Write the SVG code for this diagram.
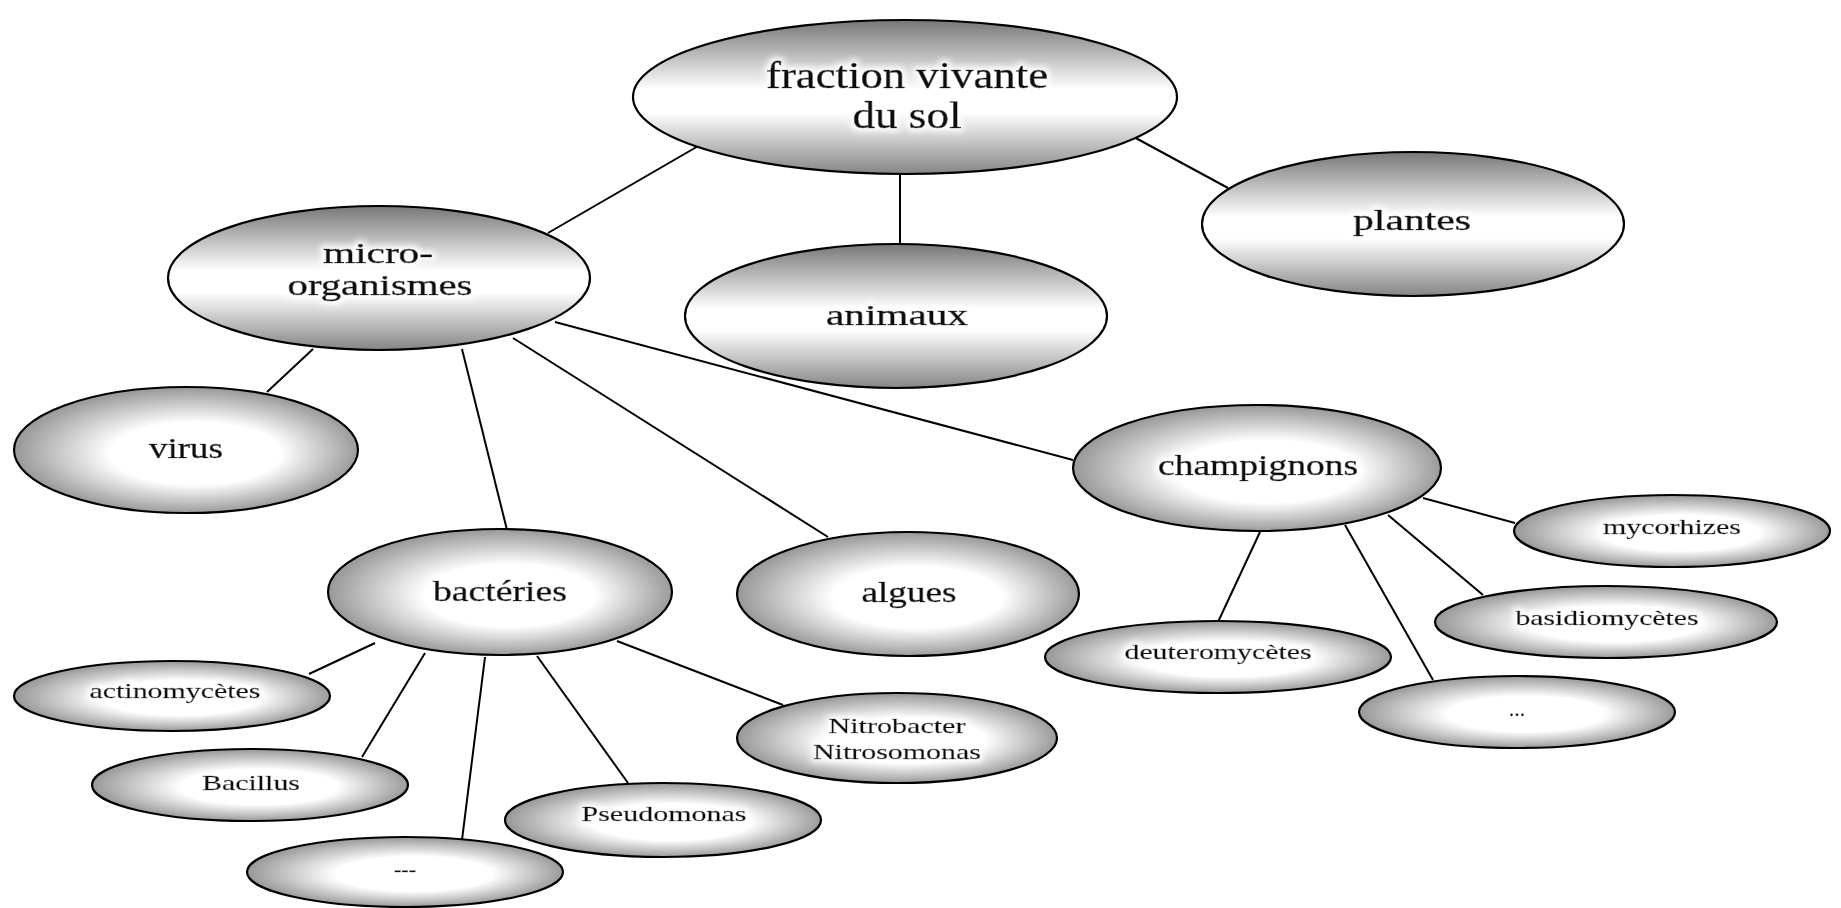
<svg xmlns="http://www.w3.org/2000/svg" width="1841" height="908" viewBox="0 0 1841 908">
<defs>
<linearGradient id="gv" x1="0" y1="0" x2="0" y2="1">
<stop offset="0" stop-color="#777777"/>
<stop offset="0.45" stop-color="#ffffff"/>
<stop offset="0.6" stop-color="#ffffff"/>
<stop offset="1" stop-color="#858585"/>
</linearGradient>
<radialGradient id="gr" cx="0.5" cy="0.5" r="0.55" fx="0.55" fy="0.55">
<stop offset="0" stop-color="#ffffff"/>
<stop offset="0.45" stop-color="#ffffff"/>
<stop offset="1" stop-color="#858585"/>
</radialGradient>
<filter id="halo" x="-20%" y="-50%" width="140%" height="200%">
<feMorphology in="SourceAlpha" operator="dilate" radius="3" result="d"/>
<feGaussianBlur in="d" stdDeviation="3" result="b"/>
<feFlood flood-color="#ffffff"/>
<feComposite in2="b" operator="in" result="w"/>
<feMerge><feMergeNode in="w"/><feMergeNode in="SourceGraphic"/></feMerge>
</filter>
</defs>
<style>
.n ellipse{stroke:#000;stroke-width:2.2}
.v{fill:url(#gv)}
.r{fill:url(#gr)}
text{font-family:"Liberation Serif","Times New Roman",serif;fill:#0a0a0a;stroke:#0a0a0a;stroke-width:0.6;text-anchor:middle;filter:url(#halo)}
.xl{font-size:37px}
.lg{font-size:30px}
.sm{font-size:22px;stroke-width:0.4}
#connectors line{stroke:#000;stroke-width:2}
</style>
<rect width="1841" height="908" fill="#fff"/>
<g id="connectors">
<line x1="548" y1="233" x2="700" y2="145"/>
<line x1="900" y1="170" x2="900" y2="245"/>
<line x1="1132" y1="136" x2="1228" y2="188"/>
<line x1="313" y1="349" x2="267" y2="392"/>
<line x1="462" y1="349" x2="507" y2="530"/>
<line x1="513" y1="338" x2="828" y2="537"/>
<line x1="555" y1="322" x2="1073" y2="460"/>
<line x1="375" y1="643" x2="309" y2="674"/>
<line x1="425" y1="653" x2="362" y2="757"/>
<line x1="485" y1="657" x2="462" y2="840"/>
<line x1="537" y1="656" x2="628" y2="783"/>
<line x1="617" y1="641" x2="783" y2="705"/>
<line x1="1260" y1="532" x2="1218" y2="622"/>
<line x1="1345" y1="525" x2="1433" y2="680"/>
<line x1="1388" y1="515" x2="1483" y2="595"/>
<line x1="1423" y1="498" x2="1515" y2="523"/>
</g>
<g id="fraction" class="n"><ellipse class="v" cx="905" cy="97" rx="272" ry="77"/><text class="xl" x="907" y="88" textLength="282" lengthAdjust="spacingAndGlyphs">fraction vivante</text><text class="xl" x="907" y="128" textLength="109" lengthAdjust="spacingAndGlyphs">du sol</text></g>
<g id="micro" class="n"><ellipse class="v" cx="379" cy="278" rx="211" ry="72"/><text class="lg" x="378" y="263" textLength="110" lengthAdjust="spacingAndGlyphs">micro-</text><text class="lg" x="380" y="295" textLength="185" lengthAdjust="spacingAndGlyphs">organismes</text></g>
<g id="animaux" class="n"><ellipse class="v" cx="896" cy="316" rx="211" ry="72"/><text class="lg" x="897" y="325" textLength="142" lengthAdjust="spacingAndGlyphs">animaux</text></g>
<g id="plantes" class="n"><ellipse class="v" cx="1413" cy="224" rx="211" ry="72"/><text class="lg" x="1412" y="230" textLength="118" lengthAdjust="spacingAndGlyphs">plantes</text></g>
<g id="virus" class="n"><ellipse class="r" cx="186" cy="450" rx="172" ry="63"/><text class="lg" x="186" y="458" textLength="74" lengthAdjust="spacingAndGlyphs">virus</text></g>
<g id="bacteries" class="n"><ellipse class="r" cx="500" cy="592" rx="172" ry="63"/><text class="lg" x="500" y="601" textLength="134" lengthAdjust="spacingAndGlyphs">bactéries</text></g>
<g id="algues" class="n"><ellipse class="r" cx="908" cy="594" rx="171" ry="62"/><text class="lg" x="909" y="602" textLength="95" lengthAdjust="spacingAndGlyphs">algues</text></g>
<g id="champignons" class="n"><ellipse class="r" cx="1257" cy="468" rx="184" ry="63"/><text class="lg" x="1258" y="475" textLength="200" lengthAdjust="spacingAndGlyphs">champignons</text></g>
<g id="actinomycetes" class="n"><ellipse class="r" cx="172" cy="696" rx="158" ry="35"/><text class="sm" x="175" y="698" textLength="171" lengthAdjust="spacingAndGlyphs">actinomycètes</text></g>
<g id="bacillus" class="n"><ellipse class="r" cx="250" cy="785" rx="158" ry="36"/><text class="sm" x="251" y="790" textLength="98" lengthAdjust="spacingAndGlyphs">Bacillus</text></g>
<g id="autres-bacteries" class="n"><ellipse class="r" cx="405" cy="872" rx="158" ry="35"/><text class="sm" x="405" y="876">---</text></g>
<g id="pseudomonas" class="n"><ellipse class="r" cx="663" cy="820" rx="158" ry="37"/><text class="sm" x="664" y="821" textLength="165" lengthAdjust="spacingAndGlyphs">Pseudomonas</text></g>
<g id="nitro" class="n"><ellipse class="r" cx="897" cy="738" rx="160" ry="45"/><text class="sm" x="897" y="733" textLength="137" lengthAdjust="spacingAndGlyphs">Nitrobacter</text><text class="sm" x="897" y="759" textLength="168" lengthAdjust="spacingAndGlyphs">Nitrosomonas</text></g>
<g id="deuteromycetes" class="n"><ellipse class="r" cx="1218" cy="657" rx="173" ry="36"/><text class="sm" x="1218" y="659" textLength="187" lengthAdjust="spacingAndGlyphs">deuteromycètes</text></g>
<g id="mycorhizes" class="n"><ellipse class="r" cx="1672" cy="531" rx="158" ry="36"/><text class="sm" x="1672" y="534" textLength="138" lengthAdjust="spacingAndGlyphs">mycorhizes</text></g>
<g id="basidiomycetes" class="n"><ellipse class="r" cx="1606" cy="622" rx="171" ry="36"/><text class="sm" x="1607" y="625" textLength="183" lengthAdjust="spacingAndGlyphs">basidiomycètes</text></g>
<g id="autres-champignons" class="n"><ellipse class="r" cx="1517" cy="712" rx="158" ry="36"/><text class="sm" x="1517" y="716">...</text></g>
</svg>
